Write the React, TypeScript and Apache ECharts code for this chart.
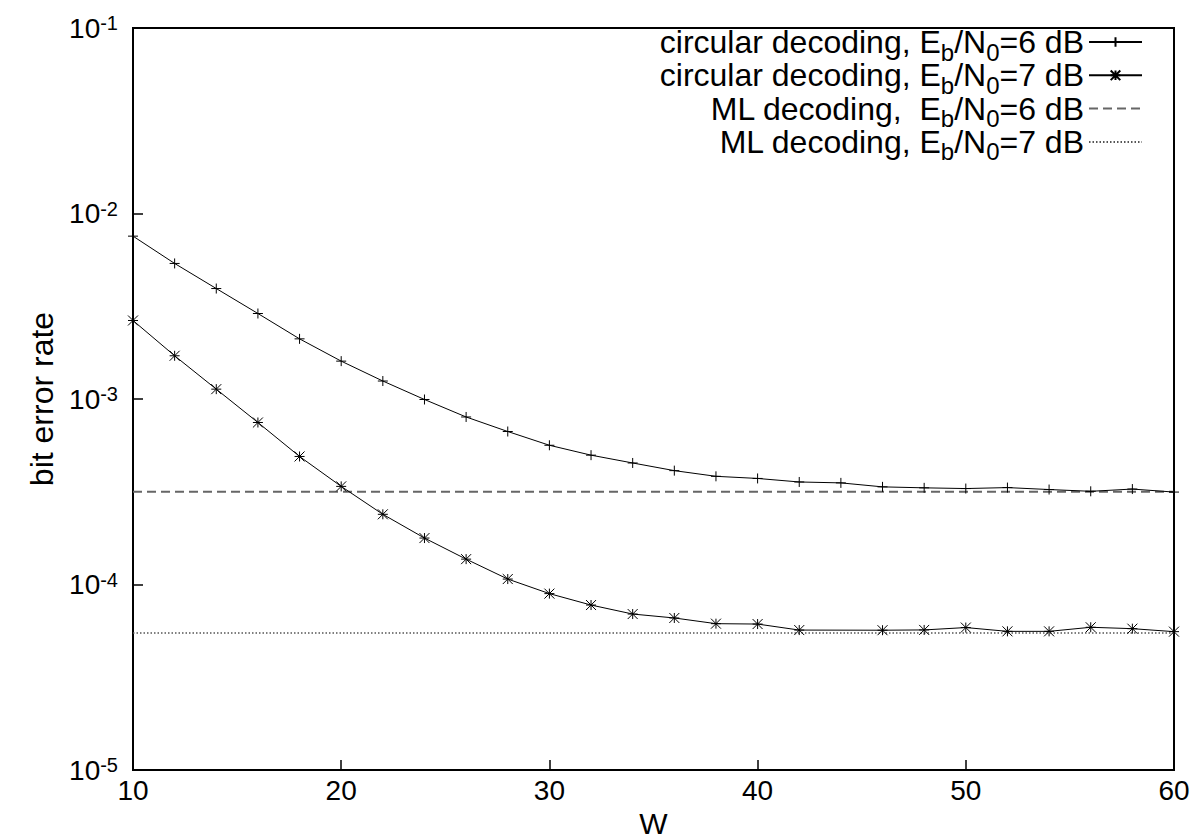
import React, { useEffect, useRef } from "react";
import * as echarts from "echarts";

// ---- data ----
const W_VALUES = [10, 12, 14, 16, 18, 20, 22, 24, 26, 28, 30, 32, 34, 36, 38, 40, 42, 44, 46, 48, 50, 52, 54, 56, 58, 60];
const BER_CIRC_6DB = [
  7.55e-3, 5.38e-3, 3.94e-3, 2.89e-3, 2.11e-3, 1.6e-3, 1.25e-3, 9.94e-4, 8.0e-4, 6.68e-4,
  5.63e-4, 4.98e-4, 4.52e-4, 4.11e-4, 3.83e-4, 3.73e-4, 3.57e-4, 3.53e-4, 3.36e-4, 3.32e-4,
  3.29e-4, 3.33e-4, 3.25e-4, 3.18e-4, 3.27e-4, 3.15e-4,
];
const W_VALUES_7DB = [10, 12, 14, 16, 18, 20, 22, 24, 26, 28, 30, 32, 34, 36, 38, 40, 42, 46, 48, 50, 52, 54, 56, 58, 60];
const BER_CIRC_7DB = [
  2.65e-3, 1.71e-3, 1.13e-3, 7.47e-4, 4.9e-4, 3.38e-4, 2.39e-4, 1.78e-4, 1.37e-4, 1.07e-4,
  8.93e-5, 7.75e-5, 6.93e-5, 6.6e-5, 6.15e-5, 6.12e-5, 5.68e-5, 5.67e-5, 5.69e-5, 5.86e-5,
  5.59e-5, 5.59e-5, 5.88e-5, 5.78e-5, 5.57e-5,
];
const ML_W_RANGE = [10, 60];
const BER_ML_6DB = [3.16e-4, 3.16e-4];
const BER_ML_7DB = [5.47e-5, 5.47e-5];

const X_TICKS = { min: 10, max: 60, interval: 10 };
const Y_RANGE = { min: 1e-5, max: 1e-1 };

const SERIES_NAMES = [
  "circular decoding, Eb/N0=6 dB",
  "circular decoding, Eb/N0=7 dB",
  "ML decoding,  Eb/N0=6 dB",
  "ML decoding, Eb/N0=7 dB",
];

const FONT = "'Liberation Sans', Arial, Helvetica, sans-serif";
const PLUS = "path://M0,5L10,5M5,0L5,10";
const STAR = "path://M0,5L10,5M5,0L5,10M0,0L10,10M0,10L10,0";

const pairs = (xs: number[], ys: number[]) => xs.map((x, i) => [x, ys[i]]);

export default function App() {
  const ref = useRef<HTMLDivElement>(null);

  useEffect(() => {
    if (!ref.current) return;
    const chart = echarts.init(ref.current, undefined, { renderer: "svg" });

    const markerStyle = { color: "#000", borderColor: "#000", borderWidth: 1 };
    const hiddenSymbol = { color: "rgba(0,0,0,0)", borderColor: "rgba(0,0,0,0)" };

    chart.setOption({
      animation: false,
      backgroundColor: "#fff",
      textStyle: { fontFamily: FONT, color: "#000" },
      grid: {
        left: 133,
        top: 28,
        right: 26,
        bottom: 70,
        show: true,
        borderColor: "#000",
        borderWidth: 2,
        containLabel: false,
        outerBoundsMode: "none",
      },
      legend: {
        orient: "vertical",
        align: "right",
        right: 57,
        top: 20,
        padding: 0,
        itemGap: -10.7,
        itemWidth: 53,
        itemHeight: 12,
        selectedMode: false,
        data: [
          { name: SERIES_NAMES[0] },
          { name: SERIES_NAMES[1] },
          { name: SERIES_NAMES[2], itemStyle: hiddenSymbol },
          { name: SERIES_NAMES[3], itemStyle: hiddenSymbol },
        ],
        formatter: (name: string) => {
          const [pre, post] = name.split("Eb/N0");
          return `{n|${pre}E}{s|b}{n|/N}{s|0}{n|${post}}`;
        },
        textStyle: {
          color: "#000",
          fontFamily: FONT,
          fontSize: 32,
          rich: {
            n: { fontSize: 32, lineHeight: 33, fontFamily: FONT, color: "#000" },
            s: { fontSize: 24, lineHeight: 24, padding: [20, 0, 0, 0], fontFamily: FONT, color: "#000" },
          },
        },
      },
      xAxis: {
        type: "value",
        min: X_TICKS.min,
        max: X_TICKS.max,
        interval: X_TICKS.interval,
        name: "W",
        nameLocation: "middle",
        nameGap: 38,
        nameTextStyle: { fontSize: 30, color: "#000", fontFamily: FONT },
        axisLine: { show: true, lineStyle: { color: "#000", width: 2 } },
        axisTick: { show: true, inside: true, length: 10, lineStyle: { color: "#000", width: 1.5 } },
        axisLabel: { fontSize: 28, color: "#000", margin: 6, fontFamily: FONT },
        splitLine: { show: false },
      },
      yAxis: {
        type: "log",
        logBase: 10,
        min: Y_RANGE.min,
        max: Y_RANGE.max,
        name: "bit error rate",
        nameLocation: "middle",
        nameGap: 55,
        nameTextStyle: { fontSize: 32, color: "#000", fontFamily: FONT },
        axisLine: { show: true, lineStyle: { color: "#000", width: 2 } },
        axisTick: { show: true, inside: true, length: 10, lineStyle: { color: "#000", width: 1.5 } },
        minorTick: { show: false },
        splitLine: { show: false },
        axisLabel: {
          margin: 15,
          formatter: (v: number) => `{b|10}{s|${Math.round(Math.log10(v))}}`,
          rich: {
            b: { fontSize: 28, lineHeight: 30, color: "#000", fontFamily: FONT },
            s: { fontSize: 20, lineHeight: 20, verticalAlign: "top", color: "#000", fontFamily: FONT },
          },
        },
      },
      series: [
        {
          type: "line",
          name: SERIES_NAMES[0],
          data: pairs(W_VALUES, BER_CIRC_6DB),
          symbol: PLUS,
          symbolSize: 10,
          clip: false,
          lineStyle: { color: "#000", width: 1 },
          itemStyle: markerStyle,
          z: 4,
        },
        {
          type: "line",
          name: SERIES_NAMES[1],
          data: pairs(W_VALUES_7DB, BER_CIRC_7DB),
          symbol: STAR,
          symbolSize: 10,
          clip: false,
          lineStyle: { color: "#000", width: 1 },
          itemStyle: markerStyle,
          z: 4,
        },
        {
          type: "line",
          name: SERIES_NAMES[2],
          data: pairs(ML_W_RANGE, BER_ML_6DB),
          symbol: "none",
          lineStyle: { color: "#666", width: 2, type: [9, 5] },
          itemStyle: { color: "#666" },
          z: 2,
        },
        {
          type: "line",
          name: SERIES_NAMES[3],
          data: pairs(ML_W_RANGE, BER_ML_7DB),
          symbol: "none",
          lineStyle: { color: "#555", width: 1.5, type: [1.5, 2] },
          itemStyle: { color: "#555" },
          z: 2,
        },
      ],
    });

    return () => chart.dispose();
  }, []);

  return (
    <div
      ref={ref}
      style={{ position: "absolute", left: 0, top: 0, width: 1200, height: 840, background: "#fff" }}
    />
  );
}
